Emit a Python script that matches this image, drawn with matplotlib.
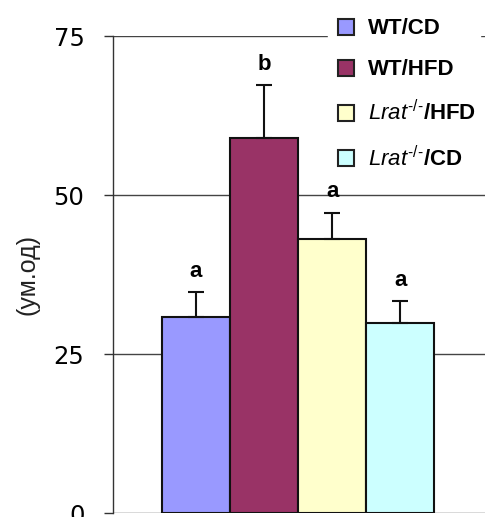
import matplotlib
matplotlib.use("Agg")
import matplotlib.pyplot as plt
from matplotlib.lines import Line2D

plt.rcParams['font.family'] = ['Liberation Sans', 'DejaVu Sans']
plt.rcParams['mathtext.fontset'] = 'custom'
plt.rcParams['mathtext.rm'] = 'Liberation Sans'
plt.rcParams['mathtext.it'] = 'Liberation Sans:italic'

groups = ["WT/CD", "WT/HFD", r"$\mathit{Lrat}^{\text{-/-}}$/HFD", r"$\mathit{Lrat}^{\text{-/-}}$/CD"]
means = [30.8, 59.0, 43.1, 29.9]
errors = [3.9, 8.3, 4.1, 3.4]
letters = ["a", "b", "a", "a"]
colors = ["#9999FF", "#993366", "#FFFFCC", "#CCFFFF"]
yticks = [0, 25, 50, 75]

fig = plt.figure(figsize=(4.89, 5.17), dpi=100)
ax = fig.add_axes([0.231, 0.0077, 0.761, 0.9226])

x = list(range(len(means)))
ax.bar(x, means, width=1.0, color=colors, edgecolor="#111111", linewidth=1.5, zorder=3)
ax.errorbar(x, means, yerr=[[0] * len(errors), errors], fmt="none", ecolor="#111111",
            elinewidth=1.5, capsize=6, capthick=1.5, zorder=4)
for xi, m, e, l in zip(x, means, errors, letters):
    ax.text(xi, m + e + 3.3, l, ha="center", va="center", fontsize=16, fontweight="bold", zorder=5)

ax.set_ylim(0, 75)
ax.set_xlim(-1.215, 4.245)
ax.set_yticks(yticks)
ax.set_yticklabels([str(t) for t in yticks], fontfamily="DejaVu Sans", fontsize=17.5)
ax.set_xticks([])
ax.tick_params(axis="y", direction="out", length=6.5, width=1, color="#333333", pad=14)
for t in yticks:
    ax.axhline(t, color="#444444", linewidth=1, zorder=1)
for s in ["top", "right", "bottom"]:
    ax.spines[s].set_visible(False)
ax.spines["left"].set_color("#333333")
ax.spines["left"].set_linewidth(1)
ax.set_ylabel("(ум.од)", fontsize=18, labelpad=10, color="#222222")

handles = [Line2D([0], [0], marker="s", linestyle="none", markersize=11,
                  markerfacecolor=c, markeredgecolor="#222222", markeredgewidth=1.5)
           for c in colors]
leg = fig.legend(handles, groups, loc="upper left", bbox_to_anchor=(328 / 489, 1.0 - 14 / 517),
                 frameon=True, fancybox=False, edgecolor="white", framealpha=1.0,
                 prop={"size": 16, "weight": "bold"}, labelspacing=0.9,
                 handletextpad=0.4, handlelength=1.2, borderpad=0.2, borderaxespad=0)
leg.set_zorder(10)
leg.get_frame().set_width(200)

fig.savefig("out.png", dpi=100)
